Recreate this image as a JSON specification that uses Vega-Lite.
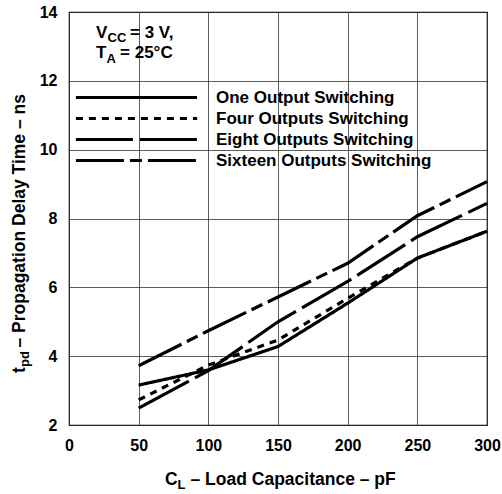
{
  "$schema": "https://vega.github.io/schema/vega-lite/v6.json",
  "width": 418,
  "height": 413,
  "autosize": "none",
  "padding": {"left": 69, "top": 12, "right": 15, "bottom": 69},
  "background": "white",
  "config": {
    "font": "Liberation Sans",
    "view": {"stroke": "black", "strokeWidth": 1.2},
    "text": {"font": "Liberation Sans", "fontWeight": "bold", "color": "black"}
  },
  "data": {
    "values": [
      {"series": "One Output Switching", "cl": 50, "tpd": 3.16},
      {"series": "One Output Switching", "cl": 100, "tpd": 3.6},
      {"series": "One Output Switching", "cl": 150, "tpd": 4.28},
      {"series": "One Output Switching", "cl": 200, "tpd": 5.54},
      {"series": "One Output Switching", "cl": 250, "tpd": 6.85},
      {"series": "One Output Switching", "cl": 300, "tpd": 7.63},
      {"series": "Four Outputs Switching", "cl": 50, "tpd": 2.73},
      {"series": "Four Outputs Switching", "cl": 100, "tpd": 3.74},
      {"series": "Four Outputs Switching", "cl": 150, "tpd": 4.47},
      {"series": "Four Outputs Switching", "cl": 200, "tpd": 5.68},
      {"series": "Four Outputs Switching", "cl": 250, "tpd": 6.85},
      {"series": "Four Outputs Switching", "cl": 300, "tpd": 7.63},
      {"series": "Eight Outputs Switching", "cl": 50, "tpd": 2.49},
      {"series": "Eight Outputs Switching", "cl": 100, "tpd": 3.58},
      {"series": "Eight Outputs Switching", "cl": 150, "tpd": 5.0},
      {"series": "Eight Outputs Switching", "cl": 200, "tpd": 6.17},
      {"series": "Eight Outputs Switching", "cl": 250, "tpd": 7.47},
      {"series": "Eight Outputs Switching", "cl": 300, "tpd": 8.44},
      {"series": "Sixteen Outputs Switching", "cl": 50, "tpd": 3.72},
      {"series": "Sixteen Outputs Switching", "cl": 100, "tpd": 4.74},
      {"series": "Sixteen Outputs Switching", "cl": 150, "tpd": 5.72},
      {"series": "Sixteen Outputs Switching", "cl": 200, "tpd": 6.7},
      {"series": "Sixteen Outputs Switching", "cl": 250, "tpd": 8.08},
      {"series": "Sixteen Outputs Switching", "cl": 300, "tpd": 9.07}
    ]
  },
  "layer": [
    {
      "mark": {"type": "line", "strokeWidth": 3.2, "color": "black", "strokeCap": "butt"},
      "encoding": {
        "x": {
          "field": "cl", "type": "quantitative",
          "scale": {"domain": [0, 300], "nice": false, "zero": false},
          "axis": {
            "title": null, "values": [0, 50, 100, 150, 200, 250, 300],
            "grid": true, "gridColor": "#333", "gridWidth": 0.8, "gridOpacity": 1,
            "domain": false, "ticks": false, "labelPadding": 12,
            "labelFont": "Liberation Sans", "labelFontWeight": "bold", "labelFontSize": 16, "labelColor": "black",
            "labelFlush": false
          }
        },
        "y": {
          "field": "tpd", "type": "quantitative",
          "scale": {"domain": [2, 14], "nice": false, "zero": false},
          "axis": {
            "title": null, "values": [2, 4, 6, 8, 10, 12, 14],
            "grid": true, "gridColor": "#333", "gridWidth": 0.8, "gridOpacity": 1,
            "domain": false, "ticks": false, "labelPadding": 12,
            "labelFont": "Liberation Sans", "labelFontWeight": "bold", "labelFontSize": 16, "labelColor": "black"
          }
        },
        "strokeDash": {
          "field": "series", "type": "nominal",
          "scale": {
            "domain": ["One Output Switching", "Four Outputs Switching", "Eight Outputs Switching", "Sixteen Outputs Switching"],
            "range": [[1, 0], [7, 6], [57, 7], [48, 6, 12, 6]]
          },
          "legend": {
            "title": null, "orient": "none", "legendX": 59, "legendY": 77,
            "symbolType": "M-12,0H12", "symbolSize": 102, "symbolStrokeWidth": 3.2, "symbolStrokeColor": "black",
            "labelFont": "Liberation Sans", "labelFontWeight": "bold", "labelFontSize": 17, "labelColor": "black",
            "labelOffset": 71, "labelLimit": 400, "rowPadding": 3, "padding": 0
          }
        }
      }
    },
    {
      "data": {"values": [{"k": 1}]},
      "mark": {"type": "text", "text": "V", "fontSize": 17, "align": "left", "baseline": "alphabetic"},
      "encoding": {"x": {"datum": 19.4}, "y": {"datum": 13.245}}
    },
    {
      "data": {"values": [{"k": 1}]},
      "mark": {"type": "text", "text": "CC", "fontSize": 13, "align": "left", "baseline": "alphabetic", "dx": 11.5, "dy": 4},
      "encoding": {"x": {"datum": 19.4}, "y": {"datum": 13.245}}
    },
    {
      "data": {"values": [{"k": 1}]},
      "mark": {"type": "text", "text": "= 3 V,", "fontSize": 17, "align": "left", "baseline": "alphabetic", "dx": 34},
      "encoding": {"x": {"datum": 19.4}, "y": {"datum": 13.245}}
    },
    {
      "data": {"values": [{"k": 1}]},
      "mark": {"type": "text", "text": "T", "fontSize": 17, "align": "left", "baseline": "alphabetic"},
      "encoding": {"x": {"datum": 19.4}, "y": {"datum": 12.663}}
    },
    {
      "data": {"values": [{"k": 1}]},
      "mark": {"type": "text", "text": "A", "fontSize": 13, "align": "left", "baseline": "alphabetic", "dx": 10.5, "dy": 5},
      "encoding": {"x": {"datum": 19.4}, "y": {"datum": 12.663}}
    },
    {
      "data": {"values": [{"k": 1}]},
      "mark": {"type": "text", "text": "= 25°C", "fontSize": 17, "align": "left", "baseline": "alphabetic", "dx": 24},
      "encoding": {"x": {"datum": 19.4}, "y": {"datum": 12.663}}
    },
    {
      "data": {"values": [{"k": 1}]},
      "mark": {"type": "text", "text": "C", "fontSize": 17.5, "align": "left", "baseline": "alphabetic"},
      "encoding": {"x": {"datum": 68.9}, "y": {"datum": 0.26}}
    },
    {
      "data": {"values": [{"k": 1}]},
      "mark": {"type": "text", "text": "L", "fontSize": 13, "align": "left", "baseline": "alphabetic", "dx": 12.5, "dy": 4},
      "encoding": {"x": {"datum": 68.9}, "y": {"datum": 0.26}}
    },
    {
      "data": {"values": [{"k": 1}]},
      "mark": {"type": "text", "text": "– Load Capacitance – pF", "fontSize": 17.5, "align": "left", "baseline": "alphabetic", "dx": 25.5},
      "encoding": {"x": {"datum": 68.9}, "y": {"datum": 0.26}}
    },
    {
      "data": {"values": [{"k": 1}]},
      "mark": {"type": "text", "text": "t", "fontSize": 17.5, "angle": 270, "align": "left", "baseline": "alphabetic"},
      "encoding": {"x": {"datum": -31.6}, "y": {"datum": 3.51}}
    },
    {
      "data": {"values": [{"k": 1}]},
      "mark": {"type": "text", "text": "pd", "fontSize": 13, "angle": 270, "align": "left", "baseline": "alphabetic", "dx": 6, "dy": 4},
      "encoding": {"x": {"datum": -31.6}, "y": {"datum": 3.51}}
    },
    {
      "data": {"values": [{"k": 1}]},
      "mark": {"type": "text", "text": "– Propagation Delay Time – ns", "fontSize": 17.5, "angle": 270, "align": "left", "baseline": "alphabetic", "dx": 25.5},
      "encoding": {"x": {"datum": -31.6}, "y": {"datum": 3.51}}
    }
  ]
}
